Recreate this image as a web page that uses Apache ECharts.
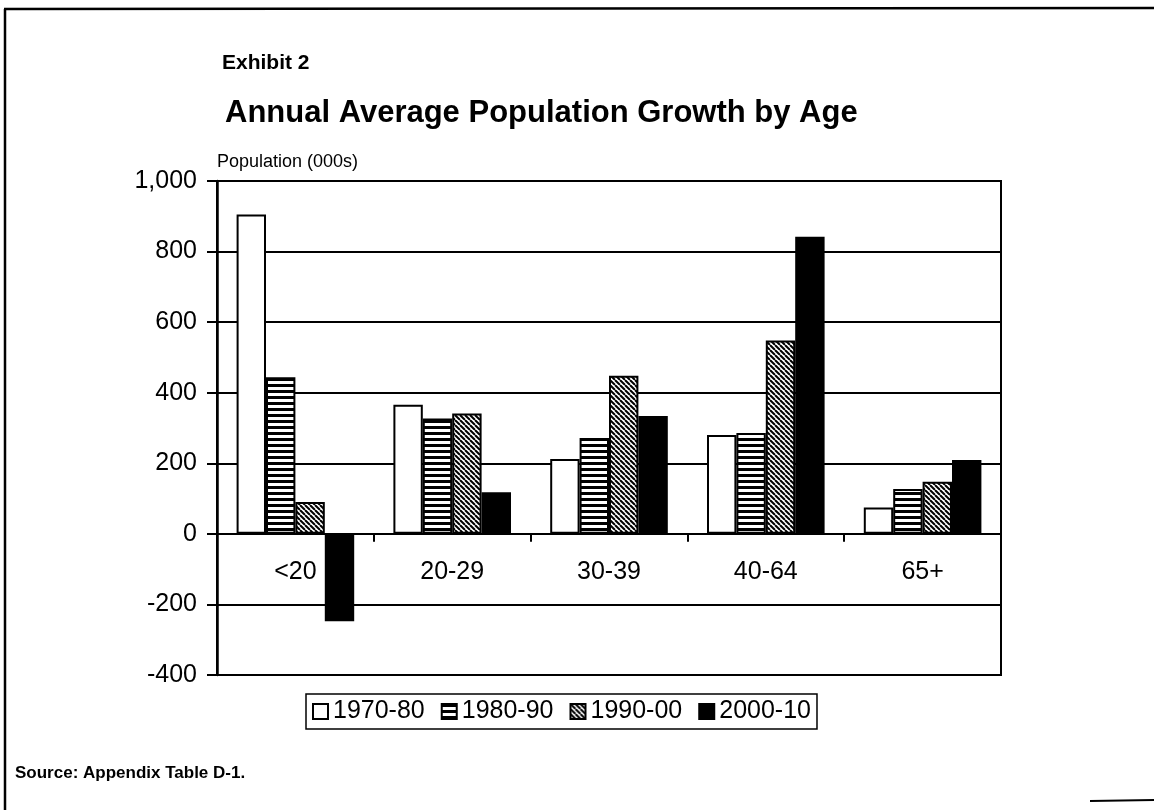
<!DOCTYPE html>
<html><head><meta charset="utf-8">
<script src="https://cdn.jsdelivr.net/npm/echarts@6/dist/echarts.min.js"></script>
<style>html,body{margin:0;padding:0;background:#fff}#c{width:1154px;height:810px}</style>
</head><body><div id="c"></div>
<script>
// ---- data ----
const categories = ['<20', '20-29', '30-39', '40-64', '65+'];
const seriesNames = ['1970-80', '1980-90', '1990-00', '2000-10'];
const v1970 = [905, 366, 212, 280, 75];
const v1980 = [444, 327, 272, 286, 127];
const v1990 = [90, 341, 448, 548, 148];
const v2000 = [-248, 118, 334, 842, 209];
const yMin = -400, yMax = 1000, yStep = 200;

// ---- fill patterns ----
function stripePattern() {
  const c = document.createElement('canvas'); c.width = 6; c.height = 6;
  const g = c.getContext('2d');
  g.fillStyle = '#fff'; g.fillRect(0, 0, 6, 6);
  g.fillStyle = '#000'; g.fillRect(0, 0, 6, 3);
  return c;
}
function hatchPattern() {
  const n = 5;
  const c = document.createElement('canvas'); c.width = n; c.height = n;
  const g = c.getContext('2d');
  g.fillStyle = '#fff'; g.fillRect(0, 0, n, n);
  g.strokeStyle = '#000'; g.lineWidth = 2;
  for (let k = -1; k <= 1; k++) {
    g.beginPath(); g.moveTo(k * n, 0); g.lineTo(k * n + n, n); g.stroke();
  }
  return c;
}
const fills = [
  '#ffffff',
  { image: stripePattern(), repeat: 'repeat' },
  { image: hatchPattern(), repeat: 'repeat' },
  '#000000'
];
const values = [v1970, v1980, v1990, v2000];
const FONT = 'Liberation Sans, Arial, Helvetica, sans-serif';

const gridTop = 181, gridH = 494;
// distance from the bottom of the plot up to the zero line
const zeroOffset = gridH * (yMax - 0) / (yMax - yMin);
const labelMargin = -(gridH - zeroOffset) + 26;

const chart = echarts.init(document.getElementById('c'), null, { renderer: 'canvas' });
chart.setOption({
  animation: false,
  backgroundColor: '#ffffff',
  title: [
    { text: 'Exhibit 2', left: 217, top: 48,
      textStyle: { fontFamily: FONT, fontSize: 21, fontWeight: 'bold', color: '#000' } },
    { text: 'Annual Average Population Growth by Age', left: 220, top: 93,
      textStyle: { fontFamily: FONT, fontSize: 31, fontWeight: 'bold', color: '#000' } },
    { text: 'Source: Appendix Table D-1.', left: 10, top: 760,
      textStyle: { fontFamily: FONT, fontSize: 17, fontWeight: 'bold', color: '#000' } }
  ],
  legend: {
    data: seriesNames,
    left: 306, top: 694,
    orient: 'horizontal',
    icon: 'rect', itemWidth: 15, itemHeight: 15, itemGap: 16, itemTextGap: 4,
    borderColor: '#000', borderWidth: 1.5, padding: [5, 6],
    textStyle: { fontFamily: FONT, fontSize: 25, color: '#000' }
  },
  grid: { left: 217, top: gridTop, width: 784, height: gridH, show: true,
          borderColor: '#000', borderWidth: 2, backgroundColor: 'transparent' },
  xAxis: {
    type: 'category', data: categories,
    axisLine: { onZero: true, lineStyle: { color: '#000', width: 2 } },
    axisTick: { show: true, length: 8, lineStyle: { color: '#000', width: 2 } },
    axisLabel: { margin: labelMargin, fontFamily: FONT, fontSize: 25, color: '#000' },
    splitLine: { show: false }
  },
  yAxis: {
    type: 'value', min: yMin, max: yMax, interval: yStep,
    name: 'Population (000s)', nameLocation: 'end', nameGap: 10,
    nameTextStyle: { fontFamily: FONT, fontSize: 18, color: '#000', align: 'left' },
    axisLine: { show: true, lineStyle: { color: '#000', width: 2.5 } },
    axisTick: { show: true, length: 10, lineStyle: { color: '#000', width: 2 } },
    axisLabel: { margin: 20, fontFamily: FONT, fontSize: 25, color: '#000',
      formatter: v => v.toLocaleString('en-US') },
    splitLine: { show: true, lineStyle: { color: '#000', width: 2 } }
  },
  series: seriesNames.map((name, i) => ({
    name, type: 'bar', data: values[i],
    barGap: '0%', barCategoryGap: '25%',
    itemStyle: { color: fills[i], borderColor: '#000', borderWidth: 2 }
  })),
  graphic: [
    { type: 'line', shape: { x1: 4, y1: 9, x2: 1154, y2: 8 }, style: { stroke: '#000', lineWidth: 2.5 } },
    { type: 'line', shape: { x1: 5, y1: 9, x2: 5, y2: 810 }, style: { stroke: '#000', lineWidth: 2.5 } },
    { type: 'line', shape: { x1: 1090, y1: 801, x2: 1154, y2: 800 }, style: { stroke: '#000', lineWidth: 2 } }
  ]
});
</script></body></html>
